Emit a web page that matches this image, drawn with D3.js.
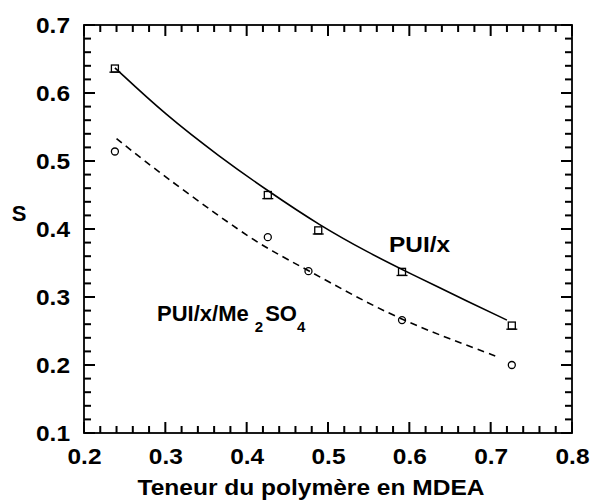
<!DOCTYPE html>
<html><head><meta charset="utf-8">
<script src="https://cdn.jsdelivr.net/npm/d3@7"></script>
<style>body{margin:0;background:#fff}svg{display:block}text{font-family:"Liberation Sans",Arial,sans-serif;font-weight:bold;fill:#000}</style>
</head><body><svg id="c" width="606" height="501"></svg>
<script>
// Data
const puiX = [0.238, 0.426, 0.488, 0.591, 0.726];
const puiY = [0.636, 0.450, 0.398, 0.337, 0.258];
const meX = [0.238, 0.426, 0.476, 0.591, 0.726];
const meY = [0.514, 0.388, 0.338, 0.266, 0.200];
const fitSolidX = [0.238, 0.30, 0.367, 0.426, 0.49, 0.55, 0.60, 0.678, 0.72];
const fitSolidY = [0.637, 0.568, 0.506, 0.456, 0.405, 0.365, 0.335, 0.290, 0.266];
const fitDashX = [0.24, 0.27, 0.33, 0.393, 0.43, 0.476, 0.53, 0.588, 0.65, 0.711];
const fitDashY = [0.533, 0.504, 0.450, 0.396, 0.368, 0.339, 0.303, 0.268, 0.238, 0.211];
const xTicks = [0.2, 0.3, 0.4, 0.5, 0.6, 0.7, 0.8];
const yTicks = [0.1, 0.2, 0.3, 0.4, 0.5, 0.6, 0.7];
const xLabel = "Teneur du polymère en MDEA";
const yLabel = "S";

const svg = d3.select("#c");
const L = 84, R = 572, T = 25, B = 433;
const x = d3.scaleLinear().domain([0.2, 0.8]).range([L, R]);
const y = d3.scaleLinear().domain([0.1, 0.7]).range([B, T]);

const minorX = d3.range(0.2, 0.8001, 0.02).map(v => +v.toFixed(2));
const minorY = d3.range(0.1, 0.7001, 0.02).map(v => +v.toFixed(2));
const isMajor = v => Math.abs(v * 10 - Math.round(v * 10)) < 1e-6;
const tlen = v => isMajor(v) ? 11 : 7;

// frame
svg.append("rect").attr("x", L).attr("y", T).attr("width", R - L).attr("height", B - T)
  .attr("fill", "none").attr("stroke", "#000").attr("stroke-width", 1.8);

// ticks on all four sides, pointing inward
const tickG = svg.append("g").attr("fill", "#000");
tickG.selectAll("rect.xb").data(minorX).join("rect").attr("class", "xb")
  .attr("x", v => x(v) - 1).attr("y", v => B - tlen(v)).attr("width", 2).attr("height", tlen);
tickG.selectAll("rect.xt").data(minorX).join("rect").attr("class", "xt")
  .attr("x", v => x(v) - 1).attr("y", T).attr("width", 2).attr("height", tlen);
tickG.selectAll("rect.yl").data(minorY).join("rect").attr("class", "yl")
  .attr("x", L).attr("y", v => y(v) - 1).attr("height", 2).attr("width", tlen);
tickG.selectAll("rect.yr").data(minorY).join("rect").attr("class", "yr")
  .attr("x", v => R - tlen(v)).attr("y", v => y(v) - 1).attr("height", 2).attr("width", tlen);

// tick labels via axes
const gx = svg.append("g").attr("transform", `translate(0,${B})`)
  .call(d3.axisBottom(x).tickValues(xTicks).tickSize(0).tickPadding(15).tickFormat(d3.format(".1f")));
const gy = svg.append("g").attr("transform", `translate(${L},0)`)
  .call(d3.axisLeft(y).tickValues(yTicks).tickSize(0).tickPadding(14).tickFormat(d3.format(".1f")));
[gx, gy].forEach(g => {
  g.select(".domain").remove();
  g.selectAll("line").remove();
  g.selectAll("text").attr("font-size", 22).attr("font-family", "Liberation Sans, Arial, sans-serif")
    .attr("font-weight", "bold").attr("fill", "#000").attr("textLength", 34).attr("lengthAdjust", "spacingAndGlyphs");
});

// fit lines
const line = d3.line().x(d => x(d[0])).y(d => y(d[1])).curve(d3.curveBasis);
svg.append("path").datum(d3.zip(fitSolidX, fitSolidY)).attr("d", line)
  .attr("fill", "none").attr("stroke", "#000").attr("stroke-width", 1.6);
svg.append("path").datum(d3.zip(fitDashX, fitDashY)).attr("d", line)
  .attr("fill", "none").attr("stroke", "#000").attr("stroke-width", 1.6).attr("stroke-dasharray", "7,5");

// markers
svg.append("g").selectAll("rect").data(d3.zip(puiX, puiY)).join("rect")
  .attr("x", d => x(d[0]) - 3.5).attr("y", d => y(d[1]) - 3.5).attr("width", 7).attr("height", 7)
  .attr("fill", "none").attr("stroke", "#000").attr("stroke-width", 1.3);
svg.append("g").selectAll("rect").data(d3.zip(puiX, puiY)).join("rect")
  .attr("x", d => x(d[0]) - 5.5).attr("y", d => y(d[1]) + 3).attr("width", 11).attr("height", 1.3)
  .attr("fill", "#000");
svg.append("g").selectAll("circle").data(d3.zip(meX, meY)).join("circle")
  .attr("cx", d => x(d[0])).attr("cy", d => y(d[1])).attr("r", 3.5)
  .attr("fill", "none").attr("stroke", "#000").attr("stroke-width", 1.3);

// labels
svg.append("text").attr("x", 311).attr("y", 495).attr("text-anchor", "middle").attr("font-size", 22)
  .attr("textLength", 347).attr("lengthAdjust", "spacingAndGlyphs").text(xLabel);
svg.append("text").attr("x", 19).attr("y", 221).attr("text-anchor", "middle").attr("font-size", 22).text(yLabel);
svg.append("text").attr("x", 389).attr("y", 252).attr("font-size", 22)
  .attr("textLength", 61).attr("lengthAdjust", "spacingAndGlyphs").text("PUI/x");
const t2 = svg.append("text").attr("x", 157).attr("y", 321).attr("font-size", 22);
t2.append("tspan").text("PUI/x/Me ");
t2.append("tspan").attr("font-size", 15).attr("dy", 11).text("2");
t2.append("tspan").attr("dy", -11).attr("dx", 2).text("SO");
t2.append("tspan").attr("font-size", 15).attr("dy", 11).text("4");
</script></body></html>
